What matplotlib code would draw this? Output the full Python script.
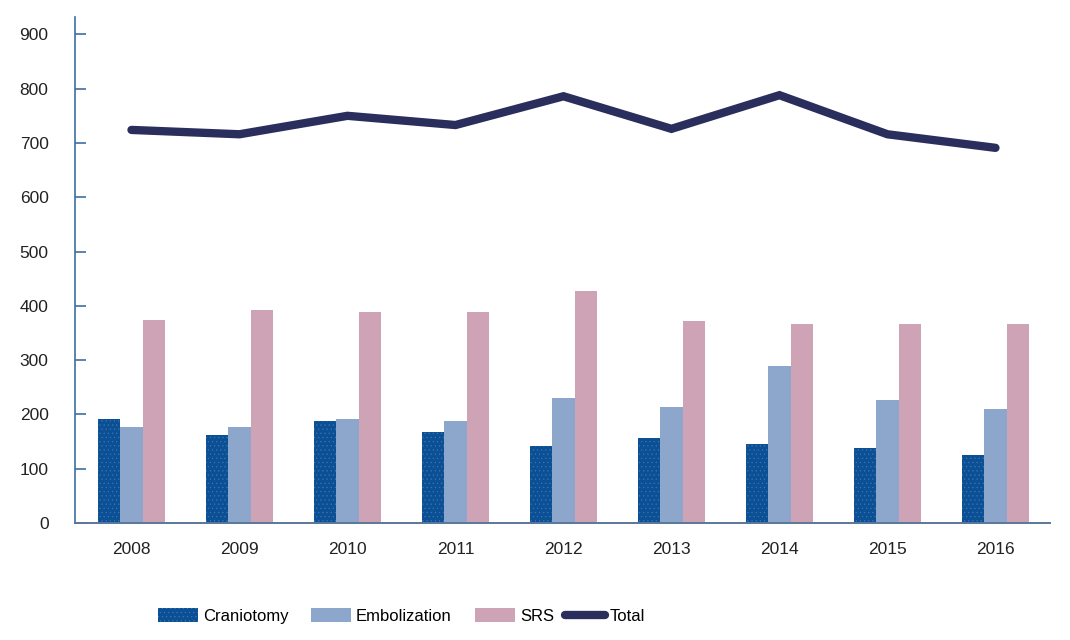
import matplotlib
matplotlib.use("Agg")
import matplotlib.pyplot as plt
import numpy as np
from matplotlib.patches import Patch
from matplotlib.lines import Line2D

years = ["2008", "2009", "2010", "2011", "2012", "2013", "2014", "2015", "2016"]
craniotomy = [191, 162, 188, 168, 142, 157, 145, 138, 125]
embolization = [177, 177, 191, 188, 230, 214, 289, 227, 210]
srs = [374, 392, 389, 389, 427, 372, 366, 366, 366]
total = [724, 716, 750, 733, 786, 726, 788, 716, 691]
yticks = [0, 100, 200, 300, 400, 500, 600, 700, 800, 900]

c_cran = "#0b4f94"
c_emb = "#8ca6cc"
c_srs = "#cda3b5"
c_tot = "#2a2e5c"
c_axis = "#3d6fa3"

plt.rcParams['font.family'] = ['Liberation Sans Narrow', 'Liberation Sans', 'DejaVu Sans']
plt.rcParams['hatch.color'] = '#3f74b0'
plt.rcParams['hatch.linewidth'] = 0.4

fig = plt.figure(figsize=(10.7, 6.4), dpi=100)
ax = fig.add_axes([75/1070, 117/640, 975/1070, 506/640])

x = np.arange(len(years))
w = 0.208
ax.bar(x - w, craniotomy, w, color=c_cran, hatch='....', linewidth=0, zorder=2)
ax.bar(x, embolization, w, color=c_emb, linewidth=0, zorder=2)
ax.bar(x + w, srs, w, color=c_srs, linewidth=0, zorder=2)
ax.plot(x, total, color=c_tot, lw=6, solid_capstyle='round', solid_joinstyle='miter', zorder=3)

ax.set_xlim(-0.523, 8.505)
ax.set_ylim(0, 932)
ax.set_yticks(yticks)
ax.set_yticklabels([str(v) for v in yticks], fontsize=12.5, color="#222222")
ax.set_xticks(x)
ax.set_xticklabels(years, fontsize=12.5, color="#222222")
ax.tick_params(axis='y', direction='in', length=8, width=1.2, color=c_axis, pad=19)
ax.tick_params(axis='x', length=0, pad=14)

for s in ['top', 'right']:
    ax.spines[s].set_visible(False)
ax.spines['left'].set_color(c_axis)
ax.spines['left'].set_linewidth(1.2)
ax.spines['bottom'].set_color("#5a7799")
ax.spines['bottom'].set_linewidth(1.4)

# legend entries placed individually
entries = [
    (Patch(facecolor=c_cran, hatch='....', linewidth=0), "Craniotomy", 158),
    (Patch(facecolor=c_emb, linewidth=0), "Embolization", 311),
    (Patch(facecolor=c_srs, linewidth=0), "SRS", 475),
    (Line2D([0], [0], color=c_tot, lw=6, solid_capstyle='round'), "Total", 565),
]
for h, lab, px in entries:
    fig.legend([h], [lab], loc='center left', bbox_to_anchor=(px / 1070, 24 / 640),
               frameon=False, fontsize=12, handlelength=2.4, handleheight=0.9,
               handletextpad=0.3, borderaxespad=0, borderpad=0)

fig.savefig("out.png", dpi=100)
